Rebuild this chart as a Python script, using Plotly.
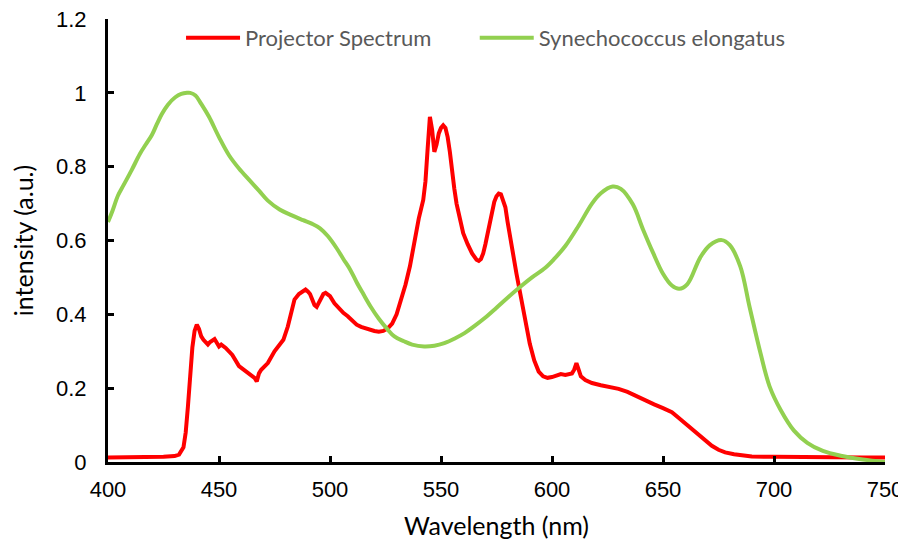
import plotly.graph_objects as go

# Projector spectrum (red)
proj_wl = [400, 410, 420, 425, 430, 432, 434, 435, 436, 437, 438, 439, 440, 441, 442, 443, 445, 446, 448,
           450, 451, 453, 456, 459, 462, 464, 466, 467, 468, 469, 472, 475, 477, 479, 481, 484, 486, 488,
           489, 490, 491, 492, 493, 494, 495, 496, 497, 498, 499, 500, 502, 504, 506, 508, 510, 512, 514,
           516, 518, 520, 522, 524, 526, 528, 530, 532, 534, 536, 538, 540, 542, 543, 544, 545, 546, 547,
           548, 549, 550, 551, 552, 553, 554, 555, 556, 557, 558, 560, 562, 564, 566, 567, 568, 569, 570,
           572, 574, 575, 576, 577, 578, 579, 580, 581, 582, 584, 586, 588, 590, 592, 594, 596, 598, 600,
           602, 604, 606, 608, 609, 610, 611, 612, 613, 615, 618, 622, 626, 630, 634, 638, 642, 646, 650,
           654, 657, 660, 663, 666, 669, 672, 675, 678, 682, 686, 690, 700, 710, 720, 730, 740, 750]
proj_val = [0.012, 0.012, 0.013, 0.014, 0.016, 0.02, 0.04, 0.08, 0.15, 0.24, 0.31, 0.355, 0.372, 0.36, 0.34,
            0.331, 0.318, 0.325, 0.333, 0.313, 0.318, 0.309, 0.29, 0.26, 0.245, 0.236, 0.228, 0.218, 0.24,
            0.25, 0.268, 0.3, 0.315, 0.331, 0.367, 0.44, 0.455, 0.465, 0.467, 0.462, 0.455, 0.44, 0.425,
            0.42, 0.43, 0.445, 0.455, 0.458, 0.455, 0.449, 0.43, 0.415, 0.404, 0.395, 0.385, 0.372, 0.366,
            0.362, 0.358, 0.355, 0.353, 0.355, 0.362, 0.375, 0.4, 0.44, 0.48, 0.53, 0.6, 0.66, 0.71, 0.76,
            0.85, 0.935, 0.9, 0.84, 0.86, 0.89, 0.905, 0.912, 0.905, 0.88, 0.84, 0.78, 0.74, 0.7, 0.67, 0.62,
            0.59, 0.565, 0.548, 0.545, 0.55, 0.565, 0.59, 0.65, 0.705, 0.72, 0.727, 0.725, 0.71, 0.69, 0.65,
            0.61, 0.58, 0.51, 0.45, 0.38, 0.32, 0.275, 0.245, 0.232, 0.228, 0.23, 0.235, 0.238, 0.236, 0.238,
            0.24, 0.25, 0.268, 0.25, 0.232, 0.222, 0.214, 0.208, 0.203, 0.198, 0.19, 0.178, 0.166, 0.156,
            0.146, 0.135, 0.12, 0.105, 0.09, 0.072, 0.058, 0.044, 0.033, 0.026, 0.021, 0.017, 0.015, 0.014,
            0.013, 0.013, 0.012, 0.012, 0.012]

# Synechococcus elongatus absorbance (green)
syn_wl = [400, 402, 404.5, 407, 410.6, 414.4, 417, 419.7, 422, 424.2, 427, 430.3, 433, 435.6, 437, 439.4,
          442, 445.5, 450, 454.5, 459, 463.6, 468, 472, 477.3, 482, 487.9, 492, 495.5, 499, 503, 506, 509.1,
          512, 515, 518.2, 522, 525.8, 529, 533.3, 537, 542.4, 547, 551.5, 556, 560.6, 565, 569.7, 575, 580,
          585.6, 591, 597, 601, 606, 612, 618, 622, 627.3, 631, 636.4, 641, 645.5, 650, 654, 657.3, 661,
          666.7, 671, 676.5, 680, 684.8, 689, 693.9, 698, 703, 709, 715, 722, 730, 740, 750]
syn_val = [0.65, 0.68, 0.722, 0.75, 0.79, 0.835, 0.86, 0.885, 0.915, 0.942, 0.968, 0.988, 0.997, 1.0, 1.0, 0.993,
           0.97, 0.935, 0.88, 0.831, 0.795, 0.764, 0.735, 0.708, 0.684, 0.67, 0.655, 0.645, 0.633, 0.612, 0.579,
           0.55, 0.521, 0.487, 0.455, 0.422, 0.388, 0.36, 0.34, 0.327, 0.318, 0.313, 0.315, 0.322, 0.334, 0.349,
           0.368, 0.39, 0.418, 0.445, 0.474, 0.5, 0.526, 0.55, 0.585, 0.64, 0.7, 0.728, 0.746, 0.74, 0.698,
           0.63, 0.567, 0.51, 0.478, 0.469, 0.482, 0.553, 0.587, 0.601, 0.588, 0.53, 0.42, 0.295, 0.205, 0.141,
           0.085, 0.052, 0.03, 0.017, 0.007, 0.0]

x_ticks = [400, 450, 500, 550, 600, 650, 700, 750]
y_ticks = [0, 0.2, 0.4, 0.6, 0.8, 1.0, 1.2]
y_tick_text = ["0", "0.2", "0.4", "0.6", "0.8", "1", "1.2"]

fig = go.Figure()
fig.add_trace(go.Scatter(x=proj_wl, y=proj_val, mode="lines", name="Projector Spectrum",
                         legend="legend", showlegend=True, line=dict(color="#FF0000", width=4)))
fig.add_trace(go.Scatter(x=syn_wl, y=syn_val, mode="lines", name="Synechococcus elongatus",
                         legend="legend2", showlegend=True,
                         line=dict(color="#92D050", width=4, shape="spline", smoothing=1.0)))

legend_font = dict(family="Lato, Open Sans", size=22, color="#595959")
fig.update_layout(
    width=898, height=534,
    margin=dict(l=100, r=21, t=10, b=80),
    showlegend=True,
    paper_bgcolor="white", plot_bgcolor="white",
    font=dict(family="Liberation Sans, Arial", color="black"),
    legend=dict(orientation="h", x=0.094, y=0.955, xanchor="left", yanchor="middle", visible=True,
                font=legend_font, itemwidth=54, bgcolor="rgba(0,0,0,0)"),
    legend2=dict(orientation="h", x=0.472, y=0.955, xanchor="left", yanchor="middle", visible=True,
                 font=legend_font, itemwidth=54, bgcolor="rgba(0,0,0,0)"),
    xaxis=dict(range=[400, 750], tickvals=x_ticks, ticks="inside", ticklen=6, tickwidth=3,
               tickcolor="black", showline=True, linecolor="black", linewidth=3, showgrid=False,
               zeroline=False, automargin=False, ticklabelstandoff=6, ticklabeloverflow="allow",
               tickfont=dict(size=22, family="Liberation Sans, Arial"),
               title=dict(text="Wavelength (nm)", font=dict(family="Lato, Open Sans", size=25), standoff=17)),
    yaxis=dict(range=[0, 1.2], tickvals=y_ticks, ticktext=y_tick_text, ticks="inside", ticklen=6,
               tickwidth=3, tickcolor="black", showline=True, linecolor="black", linewidth=3,
               showgrid=False, zeroline=False, automargin=False, ticklabelstandoff=14,
               ticklabeloverflow="allow",
               tickfont=dict(size=22, family="Liberation Sans, Arial"),
               title=dict(text="intensity (a.u.)", font=dict(family="Lato, Open Sans", size=25), standoff=20)),
)

fig.write_html("out.html")
